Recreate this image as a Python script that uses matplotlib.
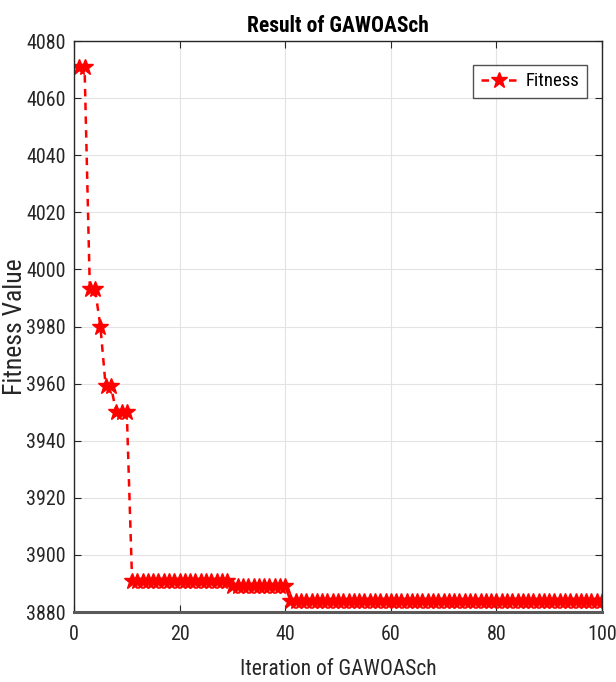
import matplotlib
matplotlib.use("Agg")
import matplotlib.pyplot as plt
import numpy as np

plt.rcParams['font.family'] = ['Roboto Condensed', 'Archivo Narrow', 'Liberation Sans', 'DejaVu Sans']

iterations = list(range(1, 101))
fitness = ([4071] * 2 + [3993] * 2 + [3980] + [3959] * 2 + [3950] * 3 +
           [3891] * 19 + [3889] * 11 + [3884] * 60)
x_ticks = [0, 20, 40, 60, 80, 100]
y_ticks = [3880, 3900, 3920, 3940, 3960, 3980, 4000, 4020, 4040, 4060, 4080]

W, H = 616, 682
L, R, T, B = 74, 602, 41, 612
fig = plt.figure(figsize=(W / 100, H / 100), dpi=100)
ax = fig.add_axes([L / W, 1 - B / H, (R - L) / W, (B - T) / H])
ax.plot(iterations, fitness, color='red', linestyle=(0, (3, 2.5)), marker='*', markersize=12,
        markerfacecolor='red', markeredgecolor='red', linewidth=1.8, label='Fitness')
ax.set_xlim(0, 100)
ax.set_ylim(3880, 4080)
ax.set_xticks(x_ticks)
ax.set_yticks(y_ticks)
ax.grid(True, color='#e3e3e3', linewidth=0.8)
ax.set_axisbelow(True)
ax.tick_params(direction='in', length=5, labelsize=14.5, colors='#262626', top=True, right=True,
               labeltop=False, labelright=False)
ax.tick_params(axis='x', pad=9)
ax.tick_params(axis='y', pad=6)
for s in ax.spines.values():
    s.set_color('#262626')
    s.set_linewidth(1.0)
ax.spines['bottom'].set_color('#5a5a5a')
ax.spines['bottom'].set_linewidth(2.2)

ax.set_title('Result of GAWOASch', fontsize=15.5, fontweight='bold',
             y=1 + (T - 32) / (B - T), pad=0)
ax.set_xlabel('Iteration of GAWOASch', fontsize=15.5, color='#262626')
ax.xaxis.set_label_coords(0.5, -(659 - B) / (B - T))
ax.set_ylabel('Fitness Value', fontsize=18.5, color='#262626')
ax.yaxis.set_label_coords((27 - L) / (R - L), 0.5)
leg = ax.legend(loc='upper right', fontsize=13.5, frameon=True, fancybox=False,
                edgecolor='#262626', bbox_to_anchor=(0.972, 0.958), handlelength=1.9,
                handletextpad=0.5, borderaxespad=0.0, borderpad=0.4)
leg.get_frame().set_linewidth(1.0)
fig.savefig('out.png', dpi=100)
